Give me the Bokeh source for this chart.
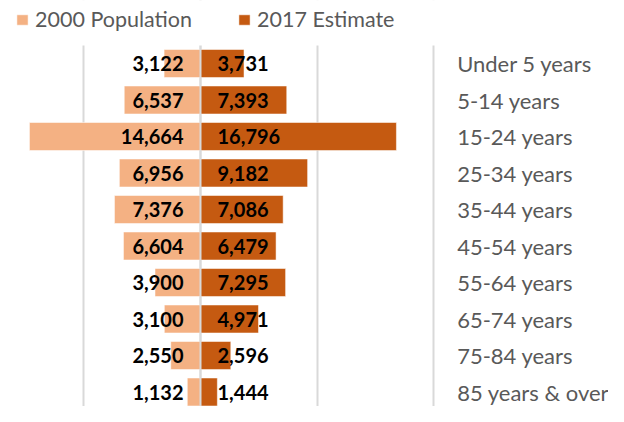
from bokeh.plotting import figure
from bokeh.models import (ColumnDataSource, Range1d, FixedTicker, Span, Legend, LegendItem,
                          BoxAnnotation)
from bokeh.core.properties import value
from bokeh.embed import file_html
from bokeh.resources import INLINE

categories = ["Under 5 years", "5-14 years", "15-24 years", "25-34 years", "35-44 years",
              "45-54 years", "55-64 years", "65-74 years", "75-84 years", "85 years & over"]
pop_2000 = [3122, 6537, 14664, 6956, 7376, 6604, 3900, 3100, 2550, 1132]
est_2017 = [3731, 7393, 16796, 9182, 7086, 6479, 7295, 4971, 2596, 1444]
grid_ticks = [-10000, 0, 10000, 20000]

C_LIGHT = "#F4B183"
C_DARK = "#C55A11"
C_TEXT = "#595959"
FONT = "Lato"

idx = list(range(len(categories)))
src = ColumnDataSource(dict(
    y=idx,
    cat=categories,
    neg2000=[-v for v in pop_2000],
    v2017=est_2017,
    zero=[0] * len(idx),
    lab2000=[f"{v:,}" for v in pop_2000],
    lab2017=[f"{v:,}" for v in est_2017],
    labx=[22000] * len(idx),
))

W, H = 608, 406
k = 0.011665      # px per unit along x
x0 = 200          # px position of zero
row = 36.5        # px per category row
y0 = 63.0         # px position of first row centre
grid_top = 45.0   # px where gridlines start

p = figure(width=W, height=H, output_backend="svg", toolbar_location=None,
           x_range=Range1d(-x0 / k, (W - x0) / k),
           y_range=Range1d((H - y0) / row, -y0 / row),
           min_border_top=0, min_border_bottom=0, min_border_left=0, min_border_right=0)
p.xaxis.visible = False
p.yaxis.visible = False
p.outline_line_color = None
p.ygrid.visible = False
p.xgrid.ticker = FixedTicker(ticks=grid_ticks)
p.xgrid.grid_line_color = "#D9D9D9"
p.xgrid.grid_line_width = 2

r1 = p.hbar(y="y", left="neg2000", right="zero", height=0.767, source=src,
            fill_color=C_LIGHT, line_color="white", line_alpha=0.5, line_width=1)
r2 = p.hbar(y="y", left="zero", right="v2017", height=0.767, source=src,
            fill_color=C_DARK, line_color="white", line_alpha=0.5, line_width=1)

# centre line drawn over the bars
p.add_layout(Span(location=0, dimension="height", line_color="#D9D9D9", line_width=2))
# hide gridlines in the legend strip
p.add_layout(BoxAnnotation(top=-y0 / row - 0.1, bottom=(grid_top - y0) / row,
                           fill_color="white", fill_alpha=1, line_alpha=0))

p.text(x="zero", y="y", text="lab2000", source=src, x_offset=-17, text_align="right",
       text_baseline="middle", text_font=value(FONT), text_font_style="bold",
       text_font_size="20px", text_color="black")
p.text(x="zero", y="y", text="lab2017", source=src, x_offset=17, text_align="left",
       text_baseline="middle", text_font=value(FONT), text_font_style="bold",
       text_font_size="20px", text_color="black")
p.text(x="labx", y="y", text="cat", source=src, text_align="left",
       text_baseline="middle", text_font=value(FONT), text_font_size="22px",
       text_color=C_TEXT)

legend = Legend(items=[LegendItem(label="2000 Population", renderers=[r1]),
                       LegendItem(label="2017 Estimate", renderers=[r2])],
                orientation="horizontal", location=(15, H - 32),
                glyph_width=14, glyph_height=13, label_standoff=6, spacing=45,
                padding=0, margin=0, border_line_color=None, background_fill_alpha=0,
                label_text_font=FONT, label_text_font_size="21.5px",
                label_text_color=C_TEXT, label_height=22)
p.add_layout(legend)

open("out.html", "w").write(file_html(p, INLINE))
